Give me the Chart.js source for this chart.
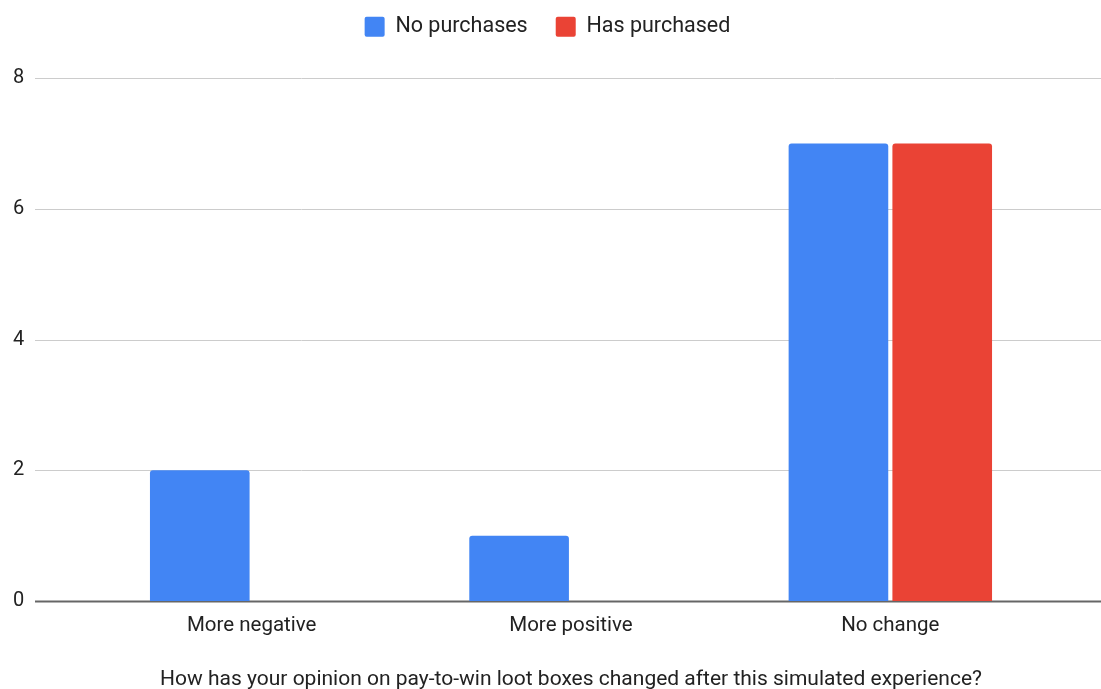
<!DOCTYPE html>
<html>
<head>
<meta charset="utf-8">
<script src="https://cdn.jsdelivr.net/npm/chart.js@4/dist/chart.umd.min.js"></script>
<style>
  html, body { margin: 0; padding: 0; background: #fff; }
  #wrap { width: 1101px; height: 689px; position: relative; }
</style>
</head>
<body>
<div id="wrap"><canvas id="opinion_chart"></canvas></div>
<script>
var categories = ['More negative', 'More positive', 'No change'];
var noPurchases = [2, 1, 7];
var hasPurchased = [0, 0, 7];
var axisTitle = 'How has your opinion on pay-to-win loot boxes changed after this simulated experience?';

// horizontal gridlines run wider than the bar area, so draw them by hand
const wideGrid = {
  id: 'wideGrid',
  afterInit(chart) {
    // leave a fixed gap between the legend and the plot
    const legend = chart.legend;
    const fit = legend.fit;
    legend.fit = function() {
      fit.call(this);
      this.height = 90;
    };
  },
  afterLayout(chart) {
    // centre the legend on the whole canvas, not just the padded box
    chart.legend.left += 16;
    chart.legend.right += 16;
  },
  beforeDatasetsDraw(chart) {
    const ctx = chart.ctx;
    const y = chart.scales.y;
    ctx.save();
    y.ticks.forEach(function(t) {
      const py = Math.round(y.getPixelForValue(t.value)) + 0.5;
      ctx.beginPath();
      ctx.lineWidth = t.value === 0 ? 2 : 1;
      ctx.strokeStyle = t.value === 0 ? '#666666' : '#cccccc';
      ctx.moveTo(35, py);
      ctx.lineTo(chart.width, py);
      ctx.stroke();
    });
    ctx.restore();
  }
};

const opinion_chart = document.querySelector('#opinion_chart').getContext('2d');

let chart = new Chart(opinion_chart, {
  type: 'bar',
  data: {
    labels: categories,
    datasets: [{
      label: 'No purchases',
      data: noPurchases,
      backgroundColor: '#4285f4',
      borderRadius: 3,
      borderSkipped: 'bottom',
    }, {
      label: 'Has purchased',
      data: hasPurchased,
      backgroundColor: '#ea4335',
      borderRadius: 3,
      borderSkipped: 'bottom',
    }]
  },
  options: {
    responsive: true,
    maintainAspectRatio: false,
    animation: false,
    categoryPercentage: 0.65,
    barPercentage: 0.96,
    layout: {
      padding: {left: 13, right: 51, top: -12, bottom: 0}
    },
    plugins: {
      legend: {
        position: 'top',
        labels: {
          boxWidth: 20,
          boxHeight: 20,
          useBorderRadius: true,
          borderRadius: 2,
          padding: 28,
          color: '#222',
          font: {family: 'Roboto', size: 21.5}
        }
      },
      tooltip: {enabled: false}
    },
    scales: {
      x: {
        grid: {display: false, drawTicks: false},
        border: {display: false},
        ticks: {color: '#222', padding: 13, font: {family: 'Roboto', size: 20.5}},
        title: {
          display: true,
          text: axisTitle,
          color: '#222',
          padding: {top: 0, bottom: -3},
          font: {family: 'Roboto', size: 21}
        },
        afterFit: function(s) { s.height = 88; }
      },
      y: {
        min: 0,
        max: 8,
        grid: {display: false, drawTicks: false},
        border: {display: false},
        ticks: {stepSize: 2, color: '#222', padding: 0, crossAlign: 'far', font: {family: 'Roboto', size: 20}},
        afterFit: function(s) { s.width = 79; }
      }
    }
  },
  plugins: [wideGrid]
});
</script>
</body>
</html>
